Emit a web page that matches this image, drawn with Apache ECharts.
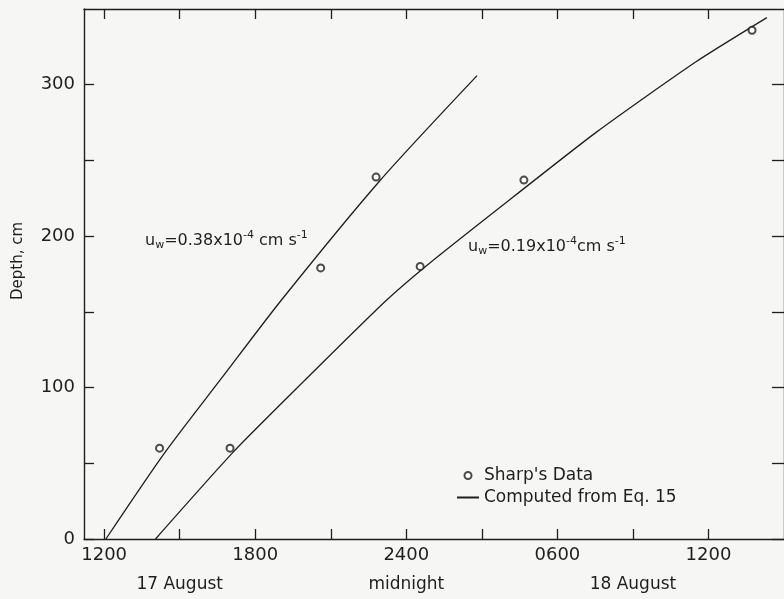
<!DOCTYPE html>
<html>
<head>
<meta charset="utf-8">
<script src="https://cdn.jsdelivr.net/npm/echarts@6/dist/echarts.min.js"></script>
<style>
  html, body { margin: 0; padding: 0; background: #f6f7f5; }
  #chart { width: 784px; height: 599px; }
</style>
</head>
<body>
<div id="chart"></div>
<script>
// hours counted from 0000 on 17 August
var sharpData = [[14.2, 60], [17.0, 60], [20.6, 179], [22.8, 239], [24.55, 180], [28.67, 237], [37.73, 336]];
var curveFast = [[12.07, 0], [14.43, 57.5], [16.64, 105.7], [19.05, 158], [22.95, 236.6], [26.81, 306]];   // uw = 0.38
var curveSlow = [[14.04, 0], [17.19, 58.5], [20.51, 113.7], [23.19, 157.3], [24.85, 181.1], [27.6, 217.4], [31.55, 268.7], [35.49, 315], [38.32, 344.3]]; // uw = 0.19
var hourTicks = [12, 15, 18, 21, 24, 27, 30, 33, 36];
var hourLabels = [12, 18, 24, 30, 36];
var hourNames = { 12: '1200', 18: '1800', 24: '2400', 30: '0600', 36: '1200' };
var dayLabels = [15, 24, 33];
var dayNames = { 15: '17 August', 24: 'midnight', 33: '18 August' };
var depthLabels = [0, 100, 200, 300];
var depthTicks = [0, 50, 100, 150, 200, 250, 300];

var ink = '#1e1e1e';
var paper = '#f6f7f5';
var font = 'DejaVu Sans';
var xMin = 11.2, xMax = 39;

var dom = document.getElementById('chart');
var myChart = echarts.init(dom);

var option = {
    backgroundColor: paper,
    animation: false,
    textStyle: { fontFamily: font, color: ink },
    grid: { left: 84, top: 9, right: -3, bottom: 60 },
    legend: {
        orient: 'vertical',
        left: 451,
        top: 462,
        itemWidth: 22,
        itemHeight: 7,
        itemGap: 5,
        textStyle: { fontFamily: font, fontSize: 17, color: ink },
        data: [
            { name: "Sharp's Data", icon: 'emptyCircle' },
            { name: 'Computed from Eq. 15', itemStyle: { opacity: 0 } }
        ]
    },
    xAxis: [
        {
            type: 'value', position: 'bottom', min: xMin, max: xMax,
            splitLine: { show: false },
            axisLine: { lineStyle: { color: ink, width: 1.4 } },
            axisTick: { inside: true, length: 10, customValues: hourTicks, lineStyle: { color: ink, width: 1.3 } },
            axisLabel: {
                customValues: hourLabels, margin: 7, fontSize: 18, color: ink, fontFamily: font,
                formatter: function (v) { return hourNames[v]; }
            }
        },
        {
            type: 'value', position: 'bottom', offset: 29, min: xMin, max: xMax,
            splitLine: { show: false },
            axisLine: { show: false },
            axisTick: { show: false },
            axisLabel: {
                customValues: dayLabels, margin: 8, fontSize: 17, color: ink, fontFamily: font,
                formatter: function (v) { return dayNames[v]; }
            }
        },
        {
            type: 'value', position: 'top', min: xMin, max: xMax,
            splitLine: { show: false },
            axisLine: { lineStyle: { color: ink, width: 1.4 } },
            axisTick: { inside: true, length: 10, customValues: hourTicks, lineStyle: { color: ink, width: 1.3 } },
            axisLabel: { show: false }
        }
    ],
    yAxis: [
        {
            type: 'value', position: 'left', min: 0, max: 350,
            name: 'Depth, cm', nameLocation: 'middle', nameRotate: 90, nameGap: 58,
            nameTextStyle: { fontSize: 15, color: ink, fontFamily: font, padding: [0, 0, 0, 26] },
            splitLine: { show: false },
            axisLine: { show: true, lineStyle: { color: ink, width: 1.4 } },
            axisTick: { show: true, inside: true, length: 10, customValues: depthTicks, lineStyle: { color: ink, width: 1.3 } },
            axisLabel: { customValues: depthLabels, margin: 9, fontSize: 18, color: ink, fontFamily: font }
        },
        {
            type: 'value', position: 'right', min: 0, max: 350,
            splitLine: { show: false },
            axisLine: { show: true, lineStyle: { color: ink, width: 1.4 } },
            axisTick: { show: true, inside: true, length: 12, customValues: depthTicks, lineStyle: { color: ink, width: 1.3 } },
            axisLabel: { show: false }
        }
    ],
    graphic: [
        {
            type: 'text', left: 145, top: 230,
            style: {
                text: '{b|u}{s|w}{b|=0.38x10}{p|-4}{b| cm s}{p|-1}',
                rich: {
                    b: { fontSize: 16, fontFamily: font, fill: ink, verticalAlign: 'middle' },
                    s: { fontSize: 11, fontFamily: font, fill: ink, padding: [10, 0, 0, 0] },
                    p: { fontSize: 11, fontFamily: font, fill: ink, padding: [0, 0, 10, 0] }
                }
            }
        },
        {
            type: 'text', left: 468, top: 236,
            style: {
                text: '{b|u}{s|w}{b|=0.19x10}{p|-4}{b|cm s}{p|-1}',
                rich: {
                    b: { fontSize: 16, fontFamily: font, fill: ink, verticalAlign: 'middle' },
                    s: { fontSize: 11, fontFamily: font, fill: ink, padding: [10, 0, 0, 0] },
                    p: { fontSize: 11, fontFamily: font, fill: ink, padding: [0, 0, 10, 0] }
                }
            }
        }
    ],
    series: [
        {
            name: 'Computed from Eq. 15', type: 'line', smooth: 0.25,
            showSymbol: false, symbol: 'none',
            lineStyle: { color: ink, width: 1.3 },
            itemStyle: { color: ink },
            data: curveFast
        },
        {
            name: 'Computed from Eq. 15', type: 'line', smooth: 0.2,
            showSymbol: false, symbol: 'none',
            lineStyle: { color: ink, width: 1.3 },
            itemStyle: { color: ink },
            data: curveSlow
        },
        {
            name: "Sharp's Data", type: 'scatter', symbol: 'emptyCircle', symbolSize: 7,
            itemStyle: { color: ink, borderWidth: 1.2 },
            z: 5,
            data: sharpData
        }
    ]
};
myChart.setOption(option);
</script>
</body>
</html>
